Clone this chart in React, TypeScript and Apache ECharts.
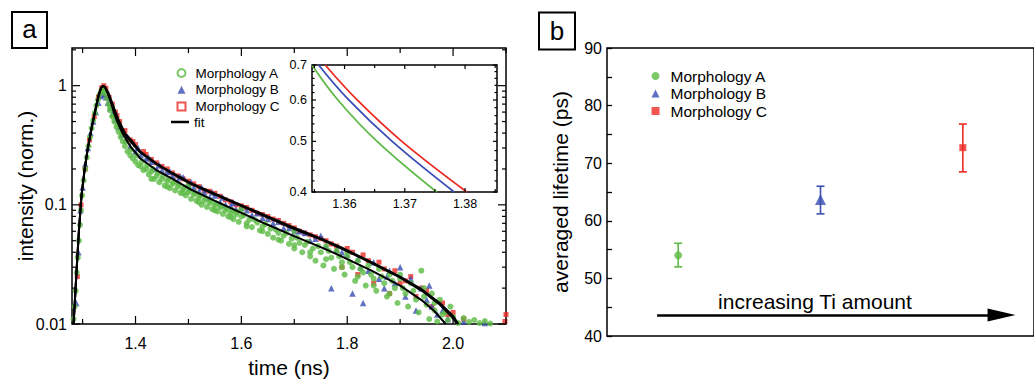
import React, { useEffect, useRef } from 'react';
import * as echarts from 'echarts';

const FONT = 'Liberation Sans, Arial, sans-serif';
const GREEN = '#5dbb45';
const BLUE = '#3a4db3';
const RED = '#ec2b24';

// ---------- panel a: decay traces (time ns, normalised intensity) ----------
const traceA: [number, number][] = [
  [1.283, 0.011], [1.285, 0.014], [1.287, 0.019], [1.289, 0.027], [1.291, 0.036], [1.293, 0.05], [1.295, 0.068],
  [1.297, 0.09], [1.299, 0.12], [1.302, 0.16], [1.305, 0.2], [1.308, 0.25], [1.311, 0.31], [1.314, 0.37],
  [1.317, 0.44], [1.32, 0.51], [1.323, 0.59], [1.326, 0.68], [1.329, 0.76], [1.332, 0.84], [1.335, 0.9],
  [1.338, 0.94], [1.341, 0.9], [1.343, 0.86], [1.346, 0.78], [1.349, 0.7], [1.352, 0.62], [1.356, 0.55],
  [1.36, 0.5], [1.364, 0.45], [1.368, 0.41], [1.372, 0.37], [1.376, 0.34], [1.38, 0.31], [1.385, 0.28],
  [1.39, 0.26], [1.395, 0.245], [1.4, 0.23], [1.405, 0.215], [1.41, 0.21], [1.415, 0.195], [1.42, 0.2],
  [1.425, 0.18], [1.43, 0.19], [1.435, 0.165], [1.44, 0.175], [1.445, 0.155], [1.45, 0.165], [1.455, 0.145],
  [1.46, 0.158], [1.465, 0.138], [1.47, 0.15], [1.475, 0.132], [1.48, 0.142], [1.485, 0.126], [1.49, 0.135],
  [1.495, 0.12], [1.5, 0.128], [1.5, 0.145], [1.505, 0.112], [1.51, 0.122], [1.515, 0.108], [1.52, 0.115],
  [1.525, 0.1], [1.53, 0.108], [1.535, 0.096], [1.54, 0.104], [1.545, 0.092], [1.55, 0.099], [1.555, 0.088],
  [1.56, 0.095], [1.565, 0.084], [1.57, 0.09], [1.575, 0.08], [1.58, 0.086], [1.585, 0.076], [1.59, 0.083],
  [1.595, 0.072], [1.6, 0.08], [1.6, 0.092], [1.61, 0.07], [1.615, 0.075], [1.62, 0.065], [1.63, 0.071],
  [1.635, 0.061], [1.64, 0.066], [1.65, 0.057], [1.655, 0.063], [1.66, 0.053], [1.67, 0.058], [1.675, 0.05],
  [1.68, 0.055], [1.69, 0.047], [1.695, 0.052], [1.7, 0.043], [1.7, 0.06], [1.71, 0.048], [1.715, 0.04],
  [1.72, 0.046], [1.73, 0.037], [1.735, 0.043], [1.74, 0.034], [1.75, 0.04], [1.755, 0.031], [1.76, 0.045],
  [1.77, 0.036], [1.775, 0.029], [1.78, 0.041], [1.79, 0.033], [1.795, 0.026], [1.8, 0.037], [1.8, 0.04],
  [1.81, 0.03], [1.815, 0.023], [1.82, 0.034], [1.83, 0.027], [1.835, 0.021], [1.84, 0.031], [1.85, 0.024],
  [1.855, 0.019], [1.86, 0.029], [1.87, 0.022], [1.875, 0.017], [1.88, 0.026], [1.89, 0.02], [1.895, 0.015],
  [1.9, 0.024], [1.9, 0.026], [1.91, 0.018], [1.915, 0.014], [1.92, 0.022], [1.93, 0.016], [1.935, 0.0125],
  [1.94, 0.028], [1.945, 0.02], [1.95, 0.0145], [1.955, 0.011], [1.96, 0.018], [1.965, 0.013], [1.97, 0.0105],
  [1.975, 0.016], [1.98, 0.012], [1.99, 0.0108], [1.995, 0.014], [2.0, 0.0115], [2.01, 0.0102], [2.02, 0.0112],
  [2.03, 0.0104], [2.04, 0.0108], [2.05, 0.0102], [2.06, 0.0106], [2.07, 0.0101],
  [1.352, 0.66], [1.358, 0.56], [1.366, 0.47], [1.374, 0.4], [1.382, 0.34], [1.392, 0.29], [1.402, 0.26],
  [1.412, 0.23], [1.422, 0.215], [1.432, 0.2], [1.442, 0.185], [1.452, 0.175], [1.462, 0.165], [1.472, 0.155],
  [1.482, 0.148], [1.492, 0.14], [1.502, 0.133], [1.512, 0.126], [1.522, 0.12], [1.532, 0.114], [1.542, 0.108],
  [1.552, 0.103], [1.562, 0.098], [1.572, 0.094], [1.582, 0.09], [1.592, 0.087], [1.605, 0.082], [1.625, 0.075],
  [1.645, 0.069], [1.665, 0.062], [1.685, 0.058], [1.705, 0.053], [1.725, 0.049], [1.745, 0.045], [1.765, 0.041],
  [1.785, 0.037], [1.805, 0.033], [1.825, 0.029], [1.845, 0.026], [1.865, 0.025], [1.885, 0.023], [1.905, 0.02],
  [1.925, 0.019], [1.945, 0.017], [1.965, 0.015], [1.985, 0.0125],
  [1.43, 0.165], [1.46, 0.142], [1.49, 0.125], [1.52, 0.105], [1.55, 0.09], [1.58, 0.079], [1.61, 0.066],
  [1.64, 0.06], [1.67, 0.051], [1.7, 0.046], [1.73, 0.04], [1.76, 0.035], [1.79, 0.03], [1.82, 0.025],
  [1.85, 0.021], [1.88, 0.018],
];

const traceB: [number, number][] = [
  [1.288, 0.015], [1.292, 0.04], [1.296, 0.09], [1.3, 0.14], [1.305, 0.22], [1.31, 0.3], [1.315, 0.4],
  [1.32, 0.5], [1.325, 0.6], [1.33, 0.72], [1.334, 0.82], [1.338, 0.86], [1.341, 0.84], [1.344, 0.8],
  [1.348, 0.72], [1.352, 0.65], [1.357, 0.58], [1.362, 0.52], [1.368, 0.45], [1.375, 0.39], [1.382, 0.35],
  [1.39, 0.31], [1.4, 0.28], [1.41, 0.26], [1.42, 0.245], [1.43, 0.23], [1.44, 0.2], [1.45, 0.195],
  [1.46, 0.19], [1.47, 0.175], [1.48, 0.16], [1.49, 0.17], [1.5, 0.148], [1.51, 0.14], [1.52, 0.13],
  [1.53, 0.128], [1.54, 0.115], [1.55, 0.12], [1.56, 0.105], [1.57, 0.1], [1.58, 0.098], [1.59, 0.092],
  [1.6, 0.094], [1.62, 0.082], [1.64, 0.078], [1.66, 0.07], [1.68, 0.064], [1.7, 0.06], [1.72, 0.058],
  [1.73, 0.05], [1.75, 0.055], [1.76, 0.045], [1.77, 0.02], [1.78, 0.042], [1.8, 0.038], [1.81, 0.018],
  [1.82, 0.035], [1.83, 0.015], [1.84, 0.028], [1.85, 0.033], [1.86, 0.024], [1.87, 0.02], [1.88, 0.028],
  [1.89, 0.022], [1.9, 0.03], [1.91, 0.017], [1.92, 0.024], [1.93, 0.013], [1.94, 0.02], [1.95, 0.016],
  [1.96, 0.014], [1.97, 0.012], [1.99, 0.011], [2.02, 0.0105], [2.06, 0.0102],
  [1.36, 0.62], [1.385, 0.37], [1.405, 0.3], [1.425, 0.25], [1.445, 0.215], [1.465, 0.19], [1.485, 0.172],
  [1.505, 0.155], [1.525, 0.14], [1.545, 0.127], [1.565, 0.115], [1.585, 0.104], [1.61, 0.09], [1.63, 0.085],
  [1.65, 0.076], [1.67, 0.072], [1.69, 0.064], [1.71, 0.06], [1.74, 0.052], [1.79, 0.04], [1.825, 0.03],
  [1.875, 0.025], [1.955, 0.021], [1.98, 0.013],
];

const traceC: [number, number][] = [
  [1.29, 0.025], [1.297, 0.1], [1.305, 0.2], [1.313, 0.35], [1.322, 0.55], [1.33, 0.8], [1.336, 0.96],
  [1.34, 1.0], [1.344, 0.95], [1.35, 0.8], [1.356, 0.7], [1.362, 0.6], [1.37, 0.5], [1.38, 0.42],
  [1.39, 0.35], [1.4, 0.32], [1.415, 0.28], [1.43, 0.24], [1.45, 0.21], [1.47, 0.185], [1.49, 0.165],
  [1.51, 0.15], [1.53, 0.132], [1.55, 0.125], [1.57, 0.11], [1.59, 0.1], [1.61, 0.095], [1.63, 0.085],
  [1.65, 0.08], [1.67, 0.074], [1.69, 0.067], [1.71, 0.06], [1.73, 0.056], [1.75, 0.052], [1.77, 0.047],
  [1.79, 0.03], [1.8, 0.043], [1.82, 0.026], [1.83, 0.038], [1.85, 0.022], [1.86, 0.033], [1.88, 0.018],
  [1.89, 0.028], [1.9, 0.022], [1.92, 0.025], [1.93, 0.017], [1.95, 0.019], [1.96, 0.014], [1.98, 0.015],
  [1.99, 0.012], [2.0, 0.0125], [2.02, 0.011], [2.098, 0.0105], [2.1, 0.012],
  [1.365, 0.56], [1.395, 0.34], [1.42, 0.265], [1.44, 0.225], [1.46, 0.2], [1.48, 0.175], [1.5, 0.158],
  [1.52, 0.142], [1.54, 0.13], [1.56, 0.118], [1.58, 0.106], [1.6, 0.098], [1.62, 0.09], [1.64, 0.083],
  [1.66, 0.076], [1.68, 0.07], [1.7, 0.064], [1.72, 0.058], [1.74, 0.054], [1.76, 0.05], [1.78, 0.045],
  [1.81, 0.04], [1.84, 0.034], [1.87, 0.029], [1.91, 0.023], [1.94, 0.02],
];

const fitA: [number, number][] = [
  [1.283, 0.01], [1.288, 0.025], [1.293, 0.06], [1.298, 0.12], [1.304, 0.2], [1.31, 0.3], [1.317, 0.44],
  [1.324, 0.62], [1.33, 0.82], [1.335, 0.96], [1.339, 1.0], [1.343, 0.96], [1.348, 0.85], [1.3546, 0.7],
  [1.3589, 0.6], [1.3654, 0.5], [1.3753, 0.4], [1.39, 0.31], [1.409, 0.245], [1.44, 0.195], [1.47, 0.165],
  [1.504, 0.135], [1.55, 0.108], [1.599, 0.086], [1.65, 0.068], [1.694, 0.056], [1.751, 0.044],
  [1.789, 0.037], [1.846, 0.028], [1.9, 0.021], [1.941, 0.0158], [1.965, 0.0128], [1.986, 0.01],
];
const fitB: [number, number][] = [
  [1.283, 0.01], [1.288, 0.025], [1.293, 0.06], [1.298, 0.12], [1.304, 0.2], [1.31, 0.3], [1.317, 0.44],
  [1.324, 0.62], [1.33, 0.82], [1.335, 0.96], [1.339, 1.0], [1.343, 0.96], [1.348, 0.86], [1.3557, 0.7],
  [1.3607, 0.6], [1.3679, 0.5], [1.3782, 0.4], [1.393, 0.33], [1.409, 0.275], [1.44, 0.218], [1.47, 0.182],
  [1.504, 0.15], [1.55, 0.122], [1.599, 0.098], [1.65, 0.078], [1.694, 0.064], [1.751, 0.051],
  [1.789, 0.043], [1.846, 0.0325], [1.9, 0.0245], [1.941, 0.019], [1.975, 0.0145], [2.0, 0.0112], [2.007, 0.01],
];
const fitC: [number, number][] = [
  [1.283, 0.01], [1.288, 0.025], [1.293, 0.06], [1.298, 0.12], [1.304, 0.2], [1.31, 0.3], [1.317, 0.44],
  [1.324, 0.62], [1.33, 0.82], [1.335, 0.96], [1.339, 1.0], [1.343, 0.96], [1.349, 0.87], [1.3568, 0.7],
  [1.3621, 0.6], [1.3695, 0.5], [1.3803, 0.4], [1.395, 0.335], [1.409, 0.28], [1.44, 0.222], [1.47, 0.185],
  [1.504, 0.153], [1.55, 0.124], [1.599, 0.1], [1.65, 0.08], [1.694, 0.066], [1.751, 0.052],
  [1.789, 0.044], [1.846, 0.033], [1.9, 0.025], [1.941, 0.0195], [1.975, 0.015], [2.0, 0.0117], [2.01, 0.01],
];

// inset (zoom of fits)
const insetA: [number, number][] = [[1.3546, 0.7], [1.3589, 0.6], [1.3654, 0.5], [1.3753, 0.4]];
const insetB: [number, number][] = [[1.3557, 0.7], [1.3607, 0.6], [1.3679, 0.5], [1.3782, 0.4]];
const insetC: [number, number][] = [[1.3568, 0.7], [1.3621, 0.6], [1.3695, 0.5], [1.3803, 0.4]];

// tick values and tick labels
const mainXMajor = [1.4, 1.6, 1.8, 2.0];
const mainXLabels = ['1.4', '1.6', '1.8', '2.0'];
const mainXMinor = [1.3, 1.5, 1.7, 1.9, 2.1];
const mainYMajor = [0.01, 0.1, 1];
const mainYLabels = ['0.01', '0.1', '1'];
const mainYMinor = [0.02, 0.03, 0.04, 0.05, 0.06, 0.07, 0.08, 0.09, 0.2, 0.3, 0.4, 0.5, 0.6, 0.7, 0.8, 0.9, 2];
const insetXMajor = [1.36, 1.37, 1.38];
const insetXLabels = ['1.36', '1.37', '1.38'];
const insetXMinor = [1.355, 1.365, 1.375, 1.385];
const insetYMajor = [0.4, 0.5, 0.6, 0.7];
const insetYLabels = ['0.4', '0.5', '0.6', '0.7'];
const insetYMinor = [0.42, 0.44, 0.46, 0.48, 0.52, 0.54, 0.56, 0.58, 0.62, 0.64, 0.66, 0.68];

// ---------- panel b: averaged lifetimes ----------
const morphNames = ['Morphology A', 'Morphology B', 'Morphology C'];
const morphPos = [1, 2, 3];
const lifetime = [54.0, 63.7, 72.7];
const lifetimeLow = [52.0, 61.2, 68.5];
const lifetimeHigh = [56.1, 66.0, 76.8];
const morphColors = [GREEN, BLUE, RED];
const morphSymbols = ['circle', 'triangle', 'rect'];
const morphSizes = [8, 11, 7];
const arrowFrom: [number, number] = [0.852, 43.65];
const arrowTo: [number, number] = [3.272, 43.65];

// item: [x, y, axisFlag(0=x,1=y), tickLength, labelIndex(-1 = none)]
function tickItems(major: number[], minor: number[], isY: boolean, ref: number, majorLen: number, minorLen: number) {
  const out: number[][] = [];
  major.forEach((v, i) => out.push(isY ? [ref, v, 1, majorLen, i] : [v, ref, 0, majorLen, i]));
  minor.forEach((v) => out.push(isY ? [ref, v, 1, minorLen, -1] : [v, ref, 0, minorLen, -1]));
  return out;
}

const labelStyle = (text: string, align: string, vAlign: string, size: number) => ({
  text, fill: '#000', fontSize: size, fontFamily: FONT,
  align, textAlign: align, verticalAlign: vAlign, textVerticalAlign: vAlign,
});

const makeTickRenderer = (xLabels: string[], yLabels: string[], size: number, xGap: number, yGap: number) => (params: any, api: any) => {
  const xv = api.value(0);
  const yv = api.value(1);
  const flag = api.value(2);
  const len = api.value(3);
  const li = api.value(4);
  const cs = params.coordSys;
  const p = api.coord([xv, yv]);
  const st = { stroke: '#000', lineWidth: 1.2 };
  const children: any[] = [];
  if (flag === 0) {
    const px = p[0];
    children.push({ type: 'line', shape: { x1: px, y1: cs.y + cs.height, x2: px, y2: cs.y + cs.height - len }, style: st });
    children.push({ type: 'line', shape: { x1: px, y1: cs.y, x2: px, y2: cs.y + len }, style: st });
    if (li >= 0) children.push({ type: 'text', x: px, y: cs.y + cs.height + xGap, style: labelStyle(xLabels[li], 'center', 'top', size) });
  } else {
    const py = p[1];
    children.push({ type: 'line', shape: { x1: cs.x, y1: py, x2: cs.x + len, y2: py }, style: st });
    children.push({ type: 'line', shape: { x1: cs.x + cs.width, y1: py, x2: cs.x + cs.width - len, y2: py }, style: st });
    if (li >= 0) children.push({ type: 'text', x: cs.x - yGap, y: py, style: labelStyle(yLabels[li], 'right', 'middle', size) });
  }
  return { type: 'group', children };
};

const errRenderer = (params: any, api: any) => {
  const x = api.value(0);
  const lo = api.coord([x, api.value(1)]);
  const hi = api.coord([x, api.value(2)]);
  const color = morphColors[api.value(3)];
  const st = { stroke: color, lineWidth: 1.6 };
  const cap = 4;
  return {
    type: 'group',
    children: [
      { type: 'line', shape: { x1: lo[0], y1: lo[1], x2: hi[0], y2: hi[1] }, style: st },
      { type: 'line', shape: { x1: lo[0] - cap, y1: lo[1], x2: lo[0] + cap, y2: lo[1] }, style: st },
      { type: 'line', shape: { x1: hi[0] - cap, y1: hi[1], x2: hi[0] + cap, y2: hi[1] }, style: st },
    ],
  };
};

export default function App() {
  const ref = useRef<HTMLDivElement>(null);
  useEffect(() => {
    if (!ref.current) return;
    const chart = echarts.init(ref.current, undefined, { renderer: 'svg' });
    const txt = { color: '#000', fontFamily: FONT };
    const hidden = { axisLine: { show: false }, axisTick: { show: false }, splitLine: { show: false }, axisLabel: { show: false } };
    const option: any = {
      animation: false,
      backgroundColor: '#fff',
      textStyle: { fontFamily: FONT, color: '#000' },
      grid: [
        { left: 72, top: 48, width: 434, height: 286, show: true, borderColor: '#000', borderWidth: 1.5, backgroundColor: 'transparent' },
        { left: 312, top: 65, width: 185, height: 127, show: true, borderColor: '#000', borderWidth: 1.5, backgroundColor: '#fff', z: 5 },
        { left: 607, top: 48, width: 440, height: 288, show: true, borderColor: '#000', borderWidth: 1.5, backgroundColor: 'transparent' },
      ],
      xAxis: [
        {
          gridIndex: 0, type: 'value', min: 1.28, max: 2.1, ...hidden,
          name: 'time (ns)', nameLocation: 'middle', nameGap: 33, nameMoveOverlap: false, nameTextStyle: { ...txt, fontSize: 21 },
        },
        { gridIndex: 1, type: 'value', min: 1.3546, max: 1.3853, ...hidden },
        { gridIndex: 2, type: 'value', min: 0.5, max: 3.5, ...hidden },
      ],
      yAxis: [
        {
          gridIndex: 0, type: 'log', logBase: 10, min: 0.01, max: 2.07, ...hidden,
          name: 'intensity (norm.)', nameLocation: 'middle', nameGap: 36, nameMoveOverlap: false, nameTextStyle: { ...txt, fontSize: 21 },
        },
        { gridIndex: 1, type: 'log', logBase: 10, min: 0.4, max: 0.7, ...hidden },
        {
          gridIndex: 2, type: 'value', min: 40, max: 90, interval: 5,
          axisLine: { show: false }, splitLine: { show: false },
          axisTick: { show: true, inside: true, length: 5, lineStyle: { color: '#000', width: 1.3 } },
          axisLabel: { ...txt, fontSize: 16, margin: 5, formatter: (v: number) => (v % 10 === 0 ? String(v) : '') },
          name: 'averaged lifetime (ps)', nameLocation: 'middle', nameGap: 36, nameMoveOverlap: false, nameTextStyle: { ...txt, fontSize: 21 },
        },
      ],
      legend: [
        {
          left: 171.5, top: 61, orient: 'vertical', itemWidth: 8, itemHeight: 8, itemGap: 2.7, selectedMode: false,
          textStyle: { ...txt, fontSize: 13.5, padding: [0, 0, 0, 5] },
          data: [
            { name: 'Morphology A', icon: 'circle', itemStyle: { color: '#fff', borderColor: GREEN, borderWidth: 2 } },
            { name: 'Morphology B', icon: 'triangle', itemStyle: { color: BLUE, borderWidth: 0 } },
            { name: 'Morphology C', icon: 'rect', itemStyle: { color: '#fff', borderColor: RED, borderWidth: 2 } },
          ],
        },
        {
          left: 166, top: 110, orient: 'vertical', itemWidth: 18, itemHeight: 2.5, selectedMode: false,
          textStyle: { ...txt, fontSize: 13.5 },
          data: [{ name: 'fit', icon: 'rect', itemStyle: { color: '#000', borderWidth: 0 } }],
        },
        {
          left: 443, top: 79, orient: 'vertical', itemWidth: 17, itemHeight: 8, itemGap: 3, selectedMode: false,
          textStyle: { ...txt, fontSize: 13.5, padding: [0, 0, 0, 3] },
          data: ['A', 'B', 'C'],
        },
        {
          left: 646.5, top: 63, orient: 'vertical', itemWidth: 8, itemHeight: 8, itemGap: 1.5, selectedMode: false,
          textStyle: { ...txt, fontSize: 15.5, padding: [0, 0, 0, 6] },
          data: morphNames.map((n, i) => ({ name: n, icon: morphSymbols[i], itemStyle: { color: morphColors[i], borderWidth: 0 } })),
        },
      ],
      graphic: [
        { type: 'rect', shape: { x: 12, y: 12, width: 35, height: 36 }, style: { fill: 'none', stroke: '#000', lineWidth: 2 } },
        { type: 'text', x: 29.5, y: 29, style: { text: 'a', fill: '#000', font: `26px ${FONT}`, textAlign: 'center', textVerticalAlign: 'middle' } },
        { type: 'rect', shape: { x: 539, y: 12.5, width: 36, height: 37 }, style: { fill: 'none', stroke: '#000', lineWidth: 2 } },
        { type: 'text', x: 557, y: 31, style: { text: 'b', fill: '#000', font: `26px ${FONT}`, textAlign: 'center', textVerticalAlign: 'middle' } },
        { type: 'text', x: 815, y: 301, style: { text: 'increasing Ti amount', fill: '#000', font: `21px ${FONT}`, textAlign: 'center', textVerticalAlign: 'middle' } },
      ],
      series: [
        { name: 'Morphology C', type: 'scatter', xAxisIndex: 0, yAxisIndex: 0, data: traceC, symbol: 'rect', symbolSize: 5, itemStyle: { color: RED }, silent: true },
        { name: 'Morphology B', type: 'scatter', xAxisIndex: 0, yAxisIndex: 0, data: traceB, symbol: 'triangle', symbolSize: 6.5, itemStyle: { color: BLUE }, silent: true },
        { name: 'Morphology A', type: 'scatter', xAxisIndex: 0, yAxisIndex: 0, data: traceA, symbol: 'circle', symbolSize: 6, itemStyle: { color: GREEN }, silent: true },
        { name: 'fit', type: 'line', xAxisIndex: 0, yAxisIndex: 0, data: fitA, symbol: 'none', lineStyle: { color: '#000', width: 2 }, itemStyle: { color: '#000' }, silent: true },
        { name: 'fit', type: 'line', xAxisIndex: 0, yAxisIndex: 0, data: fitB, symbol: 'none', lineStyle: { color: '#000', width: 2 }, itemStyle: { color: '#000' }, silent: true },
        { name: 'fit', type: 'line', xAxisIndex: 0, yAxisIndex: 0, data: fitC, symbol: 'none', lineStyle: { color: '#000', width: 2 }, itemStyle: { color: '#000' }, silent: true },
        {
          type: 'custom', xAxisIndex: 0, yAxisIndex: 0, silent: true, z: 10,
          data: [...tickItems(mainXMajor, mainXMinor, false, 0.05, 8, 5), ...tickItems(mainYMajor, mainYMinor, true, 1.5, 8, 4)],
          renderItem: makeTickRenderer(mainXLabels, mainYLabels, 16, 11, 5),
        },
        {
          type: 'custom', xAxisIndex: 1, yAxisIndex: 1, silent: true, z: 10,
          data: [...tickItems(insetXMajor, insetXMinor, false, 0.5, 4, 3), ...tickItems(insetYMajor, insetYMinor, true, 1.37, 4, 2.5)],
          renderItem: makeTickRenderer(insetXLabels, insetYLabels, 12.5, 5, 5),
        },
        { name: 'A', type: 'line', xAxisIndex: 1, yAxisIndex: 1, data: insetA, smooth: 0.4, symbol: 'none', lineStyle: { color: GREEN, width: 1.8 }, itemStyle: { color: GREEN }, silent: true, z: 6 },
        { name: 'B', type: 'line', xAxisIndex: 1, yAxisIndex: 1, data: insetB, smooth: 0.4, symbol: 'none', lineStyle: { color: BLUE, width: 1.8 }, itemStyle: { color: BLUE }, silent: true, z: 6 },
        { name: 'C', type: 'line', xAxisIndex: 1, yAxisIndex: 1, data: insetC, smooth: 0.4, symbol: 'none', lineStyle: { color: RED, width: 1.8 }, itemStyle: { color: RED }, silent: true, z: 6 },
        {
          type: 'custom', xAxisIndex: 2, yAxisIndex: 2, silent: true,
          data: morphPos.map((x, i) => [x, lifetimeLow[i], lifetimeHigh[i], i]),
          renderItem: errRenderer,
        },
        ...morphNames.map((n, i) => ({
          name: n, type: 'scatter', xAxisIndex: 2, yAxisIndex: 2, silent: true, z: 4,
          data: [[morphPos[i], lifetime[i]]], symbol: morphSymbols[i], symbolSize: morphSizes[i],
          itemStyle: { color: morphColors[i] },
          ...(i === 0
            ? {
                markLine: {
                  silent: true, symbol: ['none', 'triangle'], symbolSize: [13, 28],
                  label: { show: false }, lineStyle: { color: '#000', width: 2.5, type: 'solid' },
                  data: [[{ coord: arrowFrom }, { coord: arrowTo }]],
                },
              }
            : {}),
        })),
      ],
    };
    chart.setOption(option);
    return () => chart.dispose();
  }, []);
  return <div ref={ref} style={{ position: 'fixed', left: 0, top: 0, width: 1034, height: 383, background: '#fff' }} />;
}
